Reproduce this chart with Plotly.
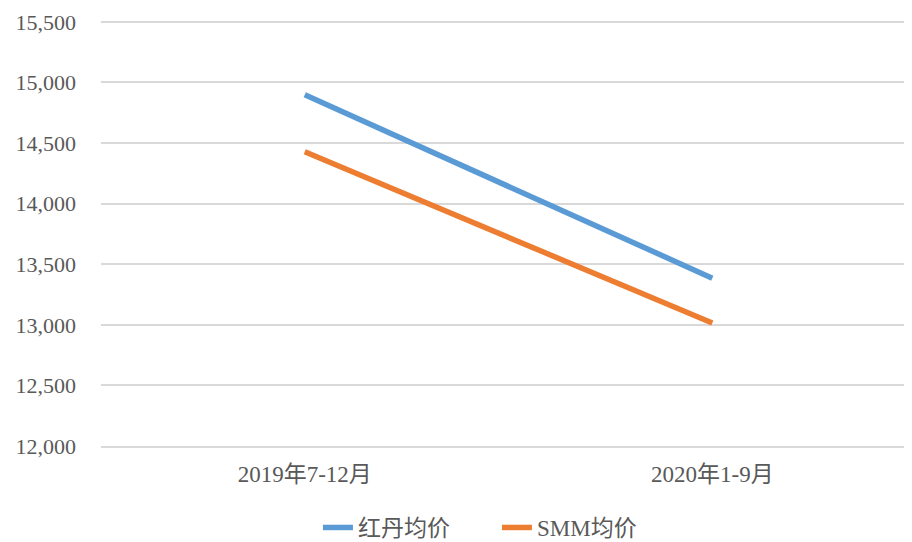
import plotly.graph_objects as go

categories = ["2019年7-12月", "2020年1-9月"]
hongdan = [14898, 13385]
smm = [14428, 13015]
y_ticks = [12000, 12500, 13000, 13500, 14000, 14500, 15000, 15500]

fig = go.Figure()
fig.add_trace(go.Scatter(x=categories, y=hongdan, mode="lines", name="红丹均价",
                         line=dict(color="#5B9BD5", width=5.5)))
fig.add_trace(go.Scatter(x=categories, y=smm, mode="lines", name="SMM均价",
                         line=dict(color="#ED7D31", width=5.5)))

font_family = "Liberation Serif, Noto Sans CJK SC"
# page body has an 8px margin, so the figure is sized/offset to compensate
fig.update_layout(
    width=904, height=534,
    margin=dict(l=93, r=0, t=9, b=96, autoexpand=False),
    plot_bgcolor="white", paper_bgcolor="white",
    font=dict(family=font_family, size=22, color="#595959"),
    showlegend=True,
    legend=dict(orientation="h", x=0.2675, xanchor="left", y=-0.19, yanchor="middle",
                entrywidth=134, entrywidthmode="pixels",
                font=dict(size=23, color="#595959"), bgcolor="rgba(0,0,0,0)"),
    xaxis=dict(range=[-0.5, 1.49], showgrid=False, showline=True, linecolor="#D9D9D9",
               linewidth=2, ticks="", tickfont=dict(size=23), automargin=False,
               ticklabelstandoff=6),
    yaxis=dict(range=[12000, 15540], tickvals=y_ticks, tickformat=",d",
               showgrid=True, gridcolor="#D9D9D9", gridwidth=2, zeroline=False,
               ticks="", ticklen=0, tickfont=dict(size=22), automargin=False,
               ticklabelstandoff=24),
)
fig.write_html("out.html")
